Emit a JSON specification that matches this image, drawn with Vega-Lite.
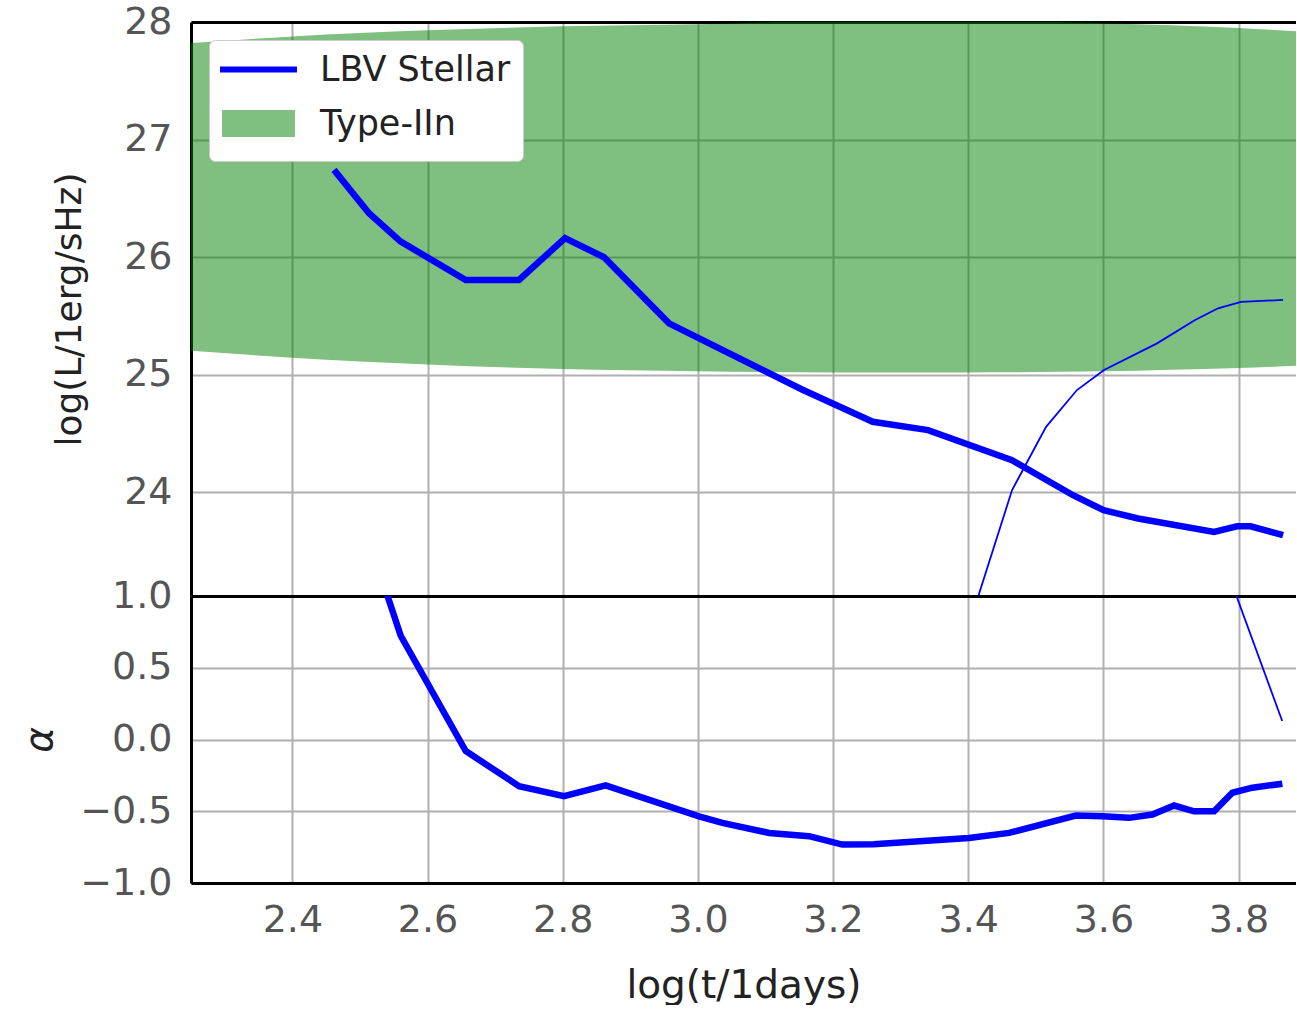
{
  "$schema": "https://vega.github.io/schema/vega-lite/v6.json",
  "padding": {"left": 20, "top": 3, "right": 0, "bottom": 0},
  "background": "white",
  "spacing": 0,
  "bounds": "flush",
  "config": {
    "font": "DejaVu Sans",
    "view": {"stroke": null},
    "axis": {
      "labelFont": "DejaVu Sans", "labelFontSize": 38, "labelColor": "#555555",
      "titleFont": "DejaVu Sans", "titleFontSize": 39, "titleFontWeight": "normal", "titleColor": "#222222",
      "gridColor": "#b0b0b0", "gridWidth": 2, "gridOpacity": 1,
      "ticks": false, "domainColor": "black", "domainWidth": 3, "labelPadding": 18
    }
  },
  "datasets": {
    "band": [
      {"x": 2.25, "lo": 25.205, "hi": 27.821, "s": "Type-IIn"},
      {"x": 2.4, "lo": 25.146, "hi": 27.877, "s": "Type-IIn"},
      {"x": 2.6, "lo": 25.089, "hi": 27.929, "s": "Type-IIn"},
      {"x": 2.8, "lo": 25.049, "hi": 27.963, "s": "Type-IIn"},
      {"x": 3.0, "lo": 25.03, "hi": 27.98, "s": "Type-IIn"},
      {"x": 3.2, "lo": 25.021, "hi": 28.01, "s": "Type-IIn"},
      {"x": 3.4, "lo": 25.021, "hi": 28.01, "s": "Type-IIn"},
      {"x": 3.6, "lo": 25.03, "hi": 27.99, "s": "Type-IIn"},
      {"x": 3.7, "lo": 25.044, "hi": 27.972, "s": "Type-IIn"},
      {"x": 3.8, "lo": 25.058, "hi": 27.949, "s": "Type-IIn"},
      {"x": 3.886, "lo": 25.077, "hi": 27.92, "s": "Type-IIn"}
    ],
    "lbv": [
      {"x": 2.4616, "y": 26.743},
      {"x": 2.5134, "y": 26.374},
      {"x": 2.5603, "y": 26.133},
      {"x": 2.6565, "y": 25.807},
      {"x": 2.7353, "y": 25.807},
      {"x": 2.8034, "y": 26.162},
      {"x": 2.8611, "y": 26.0},
      {"x": 2.9573, "y": 25.438},
      {"x": 3.1541, "y": 24.876},
      {"x": 3.2587, "y": 24.601},
      {"x": 3.3406, "y": 24.53},
      {"x": 3.4649, "y": 24.274},
      {"x": 3.5551, "y": 23.977},
      {"x": 3.6004, "y": 23.849},
      {"x": 3.6513, "y": 23.779},
      {"x": 3.7638, "y": 23.665},
      {"x": 3.7978, "y": 23.713},
      {"x": 3.8178, "y": 23.713},
      {"x": 3.8659, "y": 23.637}
    ],
    "thin": [
      {"x": 3.4, "y": 22.85},
      {"x": 3.4649, "y": 24.021},
      {"x": 3.5152, "y": 24.558},
      {"x": 3.5609, "y": 24.871},
      {"x": 3.601, "y": 25.041},
      {"x": 3.6794, "y": 25.268},
      {"x": 3.7357, "y": 25.466},
      {"x": 3.7697, "y": 25.566},
      {"x": 3.8037, "y": 25.62},
      {"x": 3.8659, "y": 25.637}
    ],
    "alpha": [
      {"x": 2.5134, "y": 1.39},
      {"x": 2.5603, "y": 0.7227},
      {"x": 2.6565, "y": -0.0807},
      {"x": 2.7353, "y": -0.325},
      {"x": 2.8019, "y": -0.395},
      {"x": 2.8636, "y": -0.32},
      {"x": 3.0017, "y": -0.535},
      {"x": 3.0362, "y": -0.581},
      {"x": 3.1053, "y": -0.651},
      {"x": 3.1645, "y": -0.674},
      {"x": 3.2137, "y": -0.732},
      {"x": 3.26, "y": -0.73},
      {"x": 3.4012, "y": -0.686},
      {"x": 3.4604, "y": -0.651},
      {"x": 3.5591, "y": -0.53},
      {"x": 3.5985, "y": -0.535},
      {"x": 3.638, "y": -0.546},
      {"x": 3.6725, "y": -0.523},
      {"x": 3.7046, "y": -0.46},
      {"x": 3.7342, "y": -0.5},
      {"x": 3.7638, "y": -0.5},
      {"x": 3.7908, "y": -0.371},
      {"x": 3.8204, "y": -0.336},
      {"x": 3.8648, "y": -0.308}
    ],
    "alphaThin": [
      {"x": 3.7697, "y": 1.35},
      {"x": 3.8646, "y": 0.129}
    ]
  },
  "vconcat": [
    {
      "width": 1105,
      "height": 574,
      "layer": [
        {
          "data": {"name": "band"},
          "mark": {"type": "area", "opacity": 0.5, "interpolate": "monotone", "clip": true},
          "encoding": {
            "x": {"field": "x", "type": "quantitative",
              "scale": {"domain": [2.25, 3.885], "nice": false, "zero": false},
              "axis": {"orient": "bottom", "values": [2.4, 2.6, 2.8, 3.0, 3.2, 3.4, 3.6, 3.8], "labels": false, "title": null, "grid": true, "domain": true}},
            "y": {"field": "hi", "type": "quantitative",
              "scale": {"domain": [23.12, 28], "nice": false, "zero": false},
              "axis": {"values": [24, 25, 26, 27, 28], "format": "d", "grid": true, "domain": true, "title": "log(L/1erg/sHz)", "titleFontSize": 36, "titleX": -122, "titleBaseline": "middle", "labelPadding": 19}},
            "y2": {"field": "lo"},
            "color": {"field": "s", "type": "nominal",
              "scale": {"domain": ["LBV Stellar", "Type-IIn"], "range": ["#0000ff", "#008000"]},
              "legend": {
                "title": null, "orient": "top-left", "offset": 18,
                "fillColor": "white", "strokeColor": "#cccccc", "cornerRadius": 6, "padding": 12,
                "labelFont": "DejaVu Sans", "labelFontSize": 35, "labelColor": "#222222", "labelLimit": 500,
                "symbolSize": 729, "symbolOffset": 20, "labelOffset": 44, "rowPadding": 10,
                "symbolStrokeWidth": 6,
                "encoding": {"symbols": {
                  "shape": {"value": {"expr": "datum.value === 'LBV Stellar' ? 'M-2.85,0H2.85' : 'M-2.7,-1H2.7V1H-2.7Z'"}},
                  "stroke": {"value": {"expr": "datum.value === 'LBV Stellar' ? '#0000ff' : 'transparent'"}},
                  "strokeWidth": {"value": 6},
                  "opacity": {"value": 1},
                  "fillOpacity": {"value": 0.5},
                  "strokeOpacity": {"value": 1}
                }}
              }}
          }
        },
        {
          "data": {"name": "lbv"},
          "mark": {"type": "line", "strokeWidth": 6.5, "color": "#0000ff", "clip": true},
          "encoding": {
            "x": {"field": "x", "type": "quantitative",
              "axis": {"orient": "top", "labels": false, "grid": false, "title": null, "domain": true}},
            "y": {"field": "y", "type": "quantitative"}
          }
        },
        {
          "data": {"name": "thin"},
          "mark": {"type": "line", "strokeWidth": 1.8, "color": "#0000ff", "clip": true},
          "encoding": {
            "x": {"field": "x", "type": "quantitative", "axis": null},
            "y": {"field": "y", "type": "quantitative"}
          }
        }
      ],
      "resolve": {"axis": {"x": "independent"}}
    },
    {
      "width": 1105,
      "height": 287,
      "layer": [
        {
          "data": {"name": "alpha"},
          "mark": {"type": "line", "strokeWidth": 6.5, "color": "#0000ff", "clip": true},
          "encoding": {
            "x": {"field": "x", "type": "quantitative",
              "scale": {"domain": [2.25, 3.885], "nice": false, "zero": false},
              "axis": {"orient": "bottom", "values": [2.4, 2.6, 2.8, 3.0, 3.2, 3.4, 3.6, 3.8], "format": ".1f", "grid": true, "title": "log(t/1days)", "titleY": 102, "titleBaseline": "middle"}},
            "y": {"field": "y", "type": "quantitative",
              "scale": {"domain": [-1, 1], "nice": false, "zero": false},
              "axis": {"values": [-1, -0.5, 0, 0.5, 1], "format": ".1f", "grid": true, "domain": true, "title": "α", "titleFontStyle": "italic", "titleX": -152, "titleBaseline": "middle", "labelPadding": 19}}
          }
        },
        {
          "data": {"name": "alphaThin"},
          "mark": {"type": "line", "strokeWidth": 1.8, "color": "#0000ff", "clip": true},
          "encoding": {
            "x": {"field": "x", "type": "quantitative",
              "axis": {"orient": "top", "labels": false, "grid": false, "title": null, "domain": true}},
            "y": {"field": "y", "type": "quantitative"}
          }
        }
      ],
      "resolve": {"axis": {"x": "independent"}}
    }
  ],
  "resolve": {"scale": {"color": "independent"}, "legend": {"color": "independent"}}
}
